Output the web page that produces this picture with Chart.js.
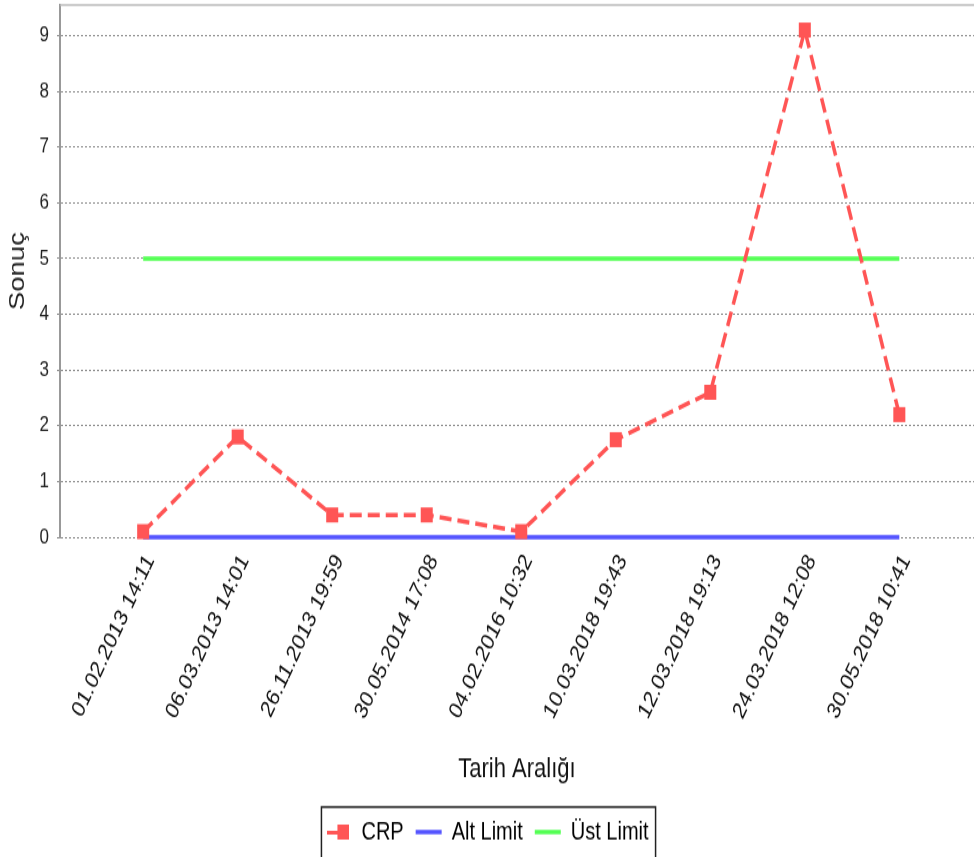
<!DOCTYPE html>
<html>
<head>
<meta charset="utf-8">
<script src="https://cdn.jsdelivr.net/npm/chart.js@4/dist/chart.umd.min.js"></script>
<style>
  body { margin: 0; background: #fff; }
</style>
</head>
<body>
<!-- the reference image is stretched vertically, so draw at 974x686 and show it at 974x857 -->
<canvas id="chart" width="974" height="686" style="width:974px;height:857px;display:block"></canvas>
<script>
// data
const tarihler = ["01.02.2013 14:11", "06.03.2013 14:01", "26.11.2013 19:59", "30.05.2014 17:08",
  "04.02.2016 10:32", "10.03.2018 19:43", "12.03.2018 19:13", "24.03.2018 12:08", "30.05.2018 10:41"];
const crpDegerleri = [0.1, 1.8, 0.4, 0.4, 0.1, 1.75, 2.6, 9.1, 2.2];
const altLimit = [0, 0, 0, 0, 0, 0, 0, 0, 0];
const ustLimit = [5, 5, 5, 5, 5, 5, 5, 5, 5];
const yTicks = [0, 1, 2, 3, 4, 5, 6, 7, 8, 9];

const RED = "#FF5555", BLUE = "#5555FF", GREEN = "#55FF55";
const FONT = "'Liberation Sans', Arial, sans-serif";

const toPoints = arr => arr.map((v, i) => ({ x: i, y: v }));

// little legend icon for CRP: dash stub + square
const crpIcon = document.createElement("canvas");
crpIcon.width = 22; crpIcon.height = 12;
(function () {
  const c = crpIcon.getContext("2d");
  c.fillStyle = RED;
  c.fillRect(0, 5, 10, 3);
  c.fillRect(10, 0, 12, 12);
})();

// draws the thin top border of the plot and the box round the legend
const frames = {
  id: "frames",
  afterDraw(chart) {
    const ctx = chart.ctx, a = chart.chartArea;
    ctx.save();
    ctx.strokeStyle = "#bbbbbb";
    ctx.lineWidth = 1.5;
    ctx.beginPath();
    ctx.moveTo(a.left, a.top);
    ctx.lineTo(a.right, a.top);
    ctx.stroke();

    const lg = chart.legend, hb = lg.legendHitBoxes;
    if (hb && hb.length) {
      const first = hb[0], last = hb[hb.length - 1];
      const l = first.left - 4, r = last.left + last.width + 7;
      ctx.strokeStyle = "#222";
      ctx.lineWidth = 1.5;
      ctx.strokeRect(l, lg.top + 2, r - l, 100);
    }
    ctx.restore();
  }
};

new Chart(document.getElementById("chart"), {
  type: "line",
  data: {
    datasets: [
      {
        label: "CRP",
        data: toPoints(crpDegerleri),
        borderColor: RED,
        backgroundColor: RED,
        borderWidth: 3.5,
        borderDash: [12, 6],
        pointStyle: "rect",
        pointRadius: 8.5,
        pointBorderWidth: 0,
        clip: false
      },
      {
        label: "Alt Limit",
        data: toPoints(altLimit),
        borderColor: BLUE,
        backgroundColor: BLUE,
        borderWidth: 3.5,
        pointStyle: "line",
        pointRadius: 0,
        clip: false
      },
      {
        label: "Üst Limit",
        data: toPoints(ustLimit),
        borderColor: GREEN,
        backgroundColor: GREEN,
        borderWidth: 3.5,
        pointStyle: "line",
        pointRadius: 0,
        clip: false
      }
    ]
  },
  options: {
    responsive: false,
    animation: false,
    layout: { autoPadding: false, padding: { top: 4, left: 0, right: 0, bottom: 0 } },
    plugins: {
      tooltip: { enabled: false },
      legend: {
        position: "bottom",
        labels: {
          usePointStyle: true,
          pointStyleWidth: 26,
          padding: 12,
          color: "#000",
          font: { family: FONT, size: 20 },
          generateLabels: chart => {
            const items = Chart.defaults.plugins.legend.labels.generateLabels(chart);
            items.forEach((it, i) => {
              it.pointStyle = i === 0 ? crpIcon : "line";
              it.lineDash = [];
            });
            return items;
          }
        }
      }
    },
    scales: {
      x: {
        type: "linear",
        min: -0.88,
        max: 8.79,
        afterBuildTicks: s => { s.ticks = tarihler.map((t, i) => ({ value: i })); },
        afterFit: s => { s.height = 214; s.paddingLeft = 0; s.paddingRight = 0; },
        grid: { display: false },
        border: { display: false },
        ticks: {
          autoSkip: false,
          minRotation: 60,
          maxRotation: 60,
          padding: 2,
          labelOffset: 7,
          color: "#111",
          font: { family: FONT, size: 19 },
          callback: v => tarihler[v]
        },
        title: {
          display: true,
          text: "Tarih Aralığı",
          color: "#111",
          font: { family: FONT, size: 22 },
          padding: { top: 4, bottom: 15 }
        }
      },
      y: {
        min: 0,
        max: 9.55,
        afterBuildTicks: s => { s.ticks = yTicks.map(v => ({ value: v })); },
        afterFit: s => { s.width = 60; s.paddingTop = 0; s.paddingBottom = 0; },
        grid: {
          color: "#8a8a8a",
          lineWidth: 1,
          tickLength: 3,
          tickBorderDash: [2, 2]
        },
        border: { display: true, color: "#999", width: 2, dash: [2, 2] },
        ticks: {
          padding: 8,
          color: "#222",
          font: { family: FONT, size: 17 }
        },
        title: {
          display: true,
          text: "Sonuç",
          color: "#222",
          font: { family: FONT, size: 22 },
          padding: { top: 5, bottom: 0 }
        }
      }
    }
  },
  plugins: [frames]
});
</script>
</body>
</html>
